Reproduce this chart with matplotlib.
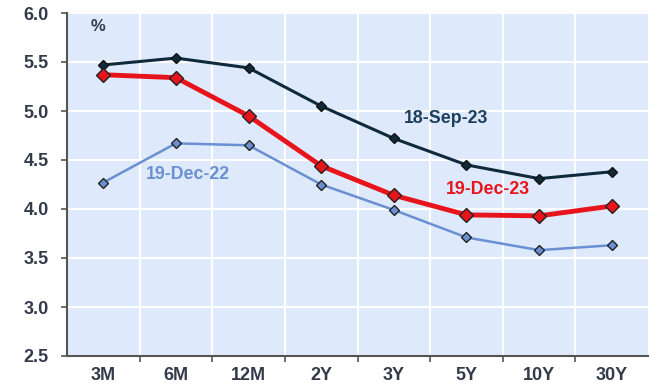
import matplotlib
matplotlib.use("Agg")
import matplotlib.pyplot as plt
import numpy as np

plt.rcParams["font.family"] = ["Liberation Sans", "DejaVu Sans"]

tenors = ["3M", "6M", "12M", "2Y", "3Y", "5Y", "10Y", "30Y"]
sep23 = [5.47, 5.54, 5.44, 5.05, 4.72, 4.45, 4.31, 4.38]
dec23 = [5.37, 5.34, 4.95, 4.44, 4.14, 3.94, 3.93, 4.03]
dec22 = [4.27, 4.67, 4.65, 4.25, 3.99, 3.71, 3.58, 3.63]

fig = plt.figure(figsize=(6.57, 3.87), dpi=100)
ax = fig.add_axes([67/657, 1 - 356/387, (648-67)/657, (356-13)/387])
ax.set_facecolor("#deeafb")

x = np.arange(len(tenors))
ax.plot(x, dec22, color="#6a8fd2", lw=1.8, marker="D", ms=5.5,
        mfc="#6a8fd2", mec="#222222", mew=1.0, zorder=3)
ax.plot(x, sep23, color="#0e2a3c", lw=2.2, marker="D", ms=5.5,
        mfc="#0e2a3c", mec="#111111", mew=1.0, zorder=4)
ax.plot(x, dec23, color="#e8141c", lw=3.5, marker="D", ms=7.5,
        mfc="#e8141c", mec="#222222", mew=1.0, zorder=5)

ax.set_xlim(-0.5, len(tenors) - 0.5)
ax.set_ylim(2.5, 6.0)
ax.set_yticks(np.arange(2.5, 6.01, 0.5))
ax.set_yticklabels([f"{v:.1f}" for v in np.arange(2.5, 6.01, 0.5)])
ax.set_xticks(x)
ax.set_xticklabels(tenors)
ax.set_xticks(np.arange(0.5, len(tenors) - 0.5), minor=True)

ax.grid(True, which="major", axis="y", color="white", lw=1.5)
ax.grid(True, which="minor", axis="x", color="white", lw=1.5)
ax.set_axisbelow(True)

for s in ["top", "right"]:
    ax.spines[s].set_visible(False)
for s in ["left", "bottom"]:
    ax.spines[s].set_color("#555555")
    ax.spines[s].set_linewidth(1.5)

ax.tick_params(axis="x", which="major", length=0, pad=8)
ax.tick_params(axis="x", which="minor", length=4, color="#555555", width=1.2)
ax.tick_params(axis="y", length=4, color="#555555", width=1.2, pad=9)
for lbl in ax.get_xticklabels() + ax.get_yticklabels():
    lbl.set_fontsize(13)
    lbl.set_fontweight("bold")
    lbl.set_color("#333a4a")

ax.text(-0.08, 5.86, "%", fontsize=12, fontweight="bold",
        color="#333a4a", ha="center", va="center")
ax.text(4.72, 4.92, "18-Sep-23", fontsize=12.8, fontweight="bold",
        color="#1d3f5e", ha="center", va="center")
ax.text(5.3, 4.20, "19-Dec-23", fontsize=12.8, fontweight="bold",
        color="#e8141c", ha="center", va="center")
ax.text(1.17, 4.35, "19-Dec-22", fontsize=12.8, fontweight="bold",
        color="#6a8fd2", ha="center", va="center")

fig.savefig("out.png", dpi=100)
